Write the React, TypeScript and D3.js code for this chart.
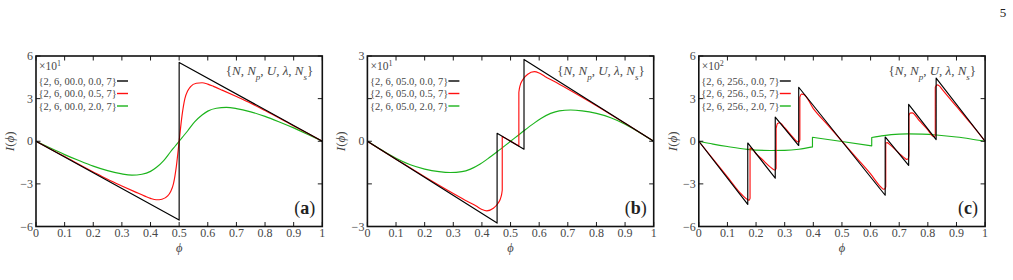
import React from 'react';
import * as d3 from 'd3';

type Pt = [number, number];

// Shared x axis: flux phi from 0 to 1
const PHI_TICKS = [0, 0.1, 0.2, 0.3, 0.4, 0.5, 0.6, 0.7, 0.8, 0.9, 1];
const PHI_TICK_LABELS = ['0', '0.1', '0.2', '0.3', '0.4', '0.5', '0.6', '0.7', '0.8', '0.9', '1'];

// Panel (a): U = 0, current in units of 10^1
const Y_TICKS_A = [-6, -3, 0, 3, 6];
const Y_LABELS_A = ['−6', '−3', '0', '3', '6'];
const LEGEND_A = ['{2, 6, 00.0, 0.0, 7}', '{2, 6, 00.0, 0.5, 7}', '{2, 6, 00.0, 2.0, 7}'];
const blackA: Pt[] = [[0, 0], [0.5, -5.55], [0.5, 5.55], [1, 0]];
const redA: Pt[] = [
  [0, 0], [0.1, -1.08], [0.2, -2.16], [0.25, -2.68], [0.3, -3.15], [0.35, -3.6], [0.38, -3.86],
  [0.4, -4.02], [0.42, -4.12], [0.44, -4.08], [0.46, -3.85], [0.47, -3.55], [0.48, -3.0],
  [0.49, -1.8], [0.5, 0], [0.51, 1.8], [0.52, 3.0], [0.53, 3.55], [0.54, 3.85], [0.56, 4.08],
  [0.58, 4.12], [0.6, 4.02], [0.62, 3.86], [0.65, 3.6], [0.7, 3.15], [0.75, 2.68], [0.8, 2.16],
  [0.9, 1.08], [1, 0],
];
const greenA: Pt[] = [
  [0, 0], [0.05, -0.48], [0.1, -0.94], [0.15, -1.36], [0.2, -1.75], [0.25, -2.07], [0.3, -2.3],
  [0.335, -2.38], [0.37, -2.32], [0.4, -2.12], [0.42, -1.85], [0.446, -1.36], [0.47, -0.74],
  [0.485, -0.37], [0.5, 0], [0.515, 0.37], [0.53, 0.74], [0.554, 1.36], [0.58, 1.85], [0.6, 2.12],
  [0.63, 2.32], [0.665, 2.38], [0.7, 2.3], [0.75, 2.07], [0.8, 1.75], [0.85, 1.36], [0.9, 0.94],
  [0.95, 0.48], [1, 0],
];

// Panel (b): U = 5, current in units of 10^1
const Y_TICKS_B = [-3, -1.5, 0, 1.5, 3];
const Y_LABELS_B = ['−3', '', '0', '', '3'];
const LEGEND_B = ['{2, 6, 05.0, 0.0, 7}', '{2, 6, 05.0, 0.5, 7}', '{2, 6, 05.0, 2.0, 7}'];
const blackB: Pt[] = [
  [0, 0], [0.453, -2.88], [0.453, 0.28], [0.547, -0.28], [0.547, 2.88], [1, 0],
];
const redB: Pt[] = [
  [0, 0], [0.1, -0.63], [0.2, -1.25], [0.3, -1.84], [0.35, -2.12], [0.38, -2.28], [0.4, -2.4],
  [0.417, -2.45], [0.44, -2.36], [0.455, -2.2], [0.464, -2.04], [0.469, -1.86], [0.471, -1.72],
  [0.471, 0.17], [0.529, -0.17], [0.529, 1.72], [0.531, 1.86], [0.536, 2.04], [0.545, 2.2],
  [0.56, 2.36], [0.583, 2.45], [0.6, 2.4], [0.62, 2.28], [0.65, 2.12], [0.7, 1.84], [0.8, 1.25],
  [0.9, 0.63], [1, 0],
];
const greenB: Pt[] = [
  [0, 0], [0.05, -0.31], [0.1, -0.6], [0.15, -0.83], [0.2, -0.98], [0.25, -1.07], [0.29, -1.1],
  [0.33, -1.07], [0.36, -0.98], [0.394, -0.8], [0.42, -0.62], [0.452, -0.38], [0.5, 0],
  [0.548, 0.38], [0.58, 0.62], [0.606, 0.8], [0.64, 0.98], [0.67, 1.07], [0.71, 1.1], [0.75, 1.07],
  [0.8, 0.98], [0.85, 0.83], [0.9, 0.6], [0.95, 0.31], [1, 0],
];

// Panel (c): U = 256, current in units of 10^2
const Y_TICKS_C = [-6, -3, 0, 3, 6];
const Y_LABELS_C = ['−6', '−3', '0', '3', '6'];
const LEGEND_C = ['{2, 6, 256., 0.0, 7}', '{2, 6, 256., 0.5, 7}', '{2, 6, 256., 2.0, 7}'];
const blackC: Pt[] = [
  [0, 0], [0.171, -4.45], [0.171, -0.12], [0.267, -2.6], [0.267, 1.7], [0.349, -0.3],
  [0.349, 3.8], [0.651, -3.8], [0.651, 0.3], [0.733, -1.7], [0.733, 2.6], [0.829, 0.12],
  [0.829, 4.45], [1, 0],
];
const redC: Pt[] = [
  [0, 0], [0.1, -2.5], [0.15, -3.75], [0.17, -4.1], [0.176, -4.15], [0.179, -4.02],
  [0.179, -0.48], [0.184, -0.5], [0.2, -0.88], [0.22, -1.25], [0.25, -1.82], [0.262, -2.0],
  [0.267, -2.02], [0.27, -1.9],
  [0.27, 0.9], [0.275, 1.25], [0.282, 1.3], [0.3, 0.95], [0.33, 0.25], [0.345, -0.04],
  [0.35, -0.07], [0.353, 0.1],
  [0.353, 3.1], [0.358, 3.32], [0.366, 3.3], [0.4, 2.3], [0.45, 1.15], [0.5, 0], [0.55, -1.15],
  [0.6, -2.3], [0.635, -3.2], [0.645, -3.38], [0.65, -3.35], [0.653, -3.2],
  [0.653, -0.12], [0.658, -0.1], [0.665, -0.2], [0.7, -0.85], [0.72, -1.2], [0.727, -1.28],
  [0.732, -1.2], [0.734, -1.0],
  [0.734, 1.8], [0.738, 1.98], [0.745, 2.0], [0.77, 1.45], [0.8, 0.8], [0.815, 0.4],
  [0.822, 0.32], [0.826, 0.4],
  [0.826, 3.8], [0.832, 3.97], [0.84, 3.9], [0.85, 3.65], [0.9, 2.45], [0.95, 1.25], [1, 0],
];
const greenC: Pt[] = [
  [0, 0], [0.05, -0.2], [0.1, -0.37], [0.17, -0.57], [0.25, -0.65], [0.3, -0.64], [0.35, -0.56],
  [0.397, -0.4], [0.397, 0.28], [0.5, -0.02], [0.604, -0.33], [0.604, 0.26], [0.646, 0.4],
  [0.7, 0.5], [0.73, 0.52], [0.78, 0.5], [0.83, 0.44], [0.9, 0.3], [0.95, 0.16], [1, 0],
];

const SERIES_COLORS = ['#000000', '#ff1010', '#1cb41c'];
const TEXT_GRAY = '#474747';
const FONT = '"Liberation Serif", "DejaVu Serif", serif';

const panels = [
  { tag: 'a', exp: '1', yMax: 6, yTicks: Y_TICKS_A, yLabels: Y_LABELS_A, legend: LEGEND_A, series: [blackA, redA, greenA] },
  { tag: 'b', exp: '1', yMax: 3, yTicks: Y_TICKS_B, yLabels: Y_LABELS_B, legend: LEGEND_B, series: [blackB, redB, greenB] },
  { tag: 'c', exp: '2', yMax: 6, yTicks: Y_TICKS_C, yLabels: Y_LABELS_C, legend: LEGEND_C, series: [blackC, redC, greenC] },
];

const PANEL_X0 = 36;
const PANEL_STEP = 331.4;
const PANEL_W = 286.3;
const PANEL_TOP = 56;
const PANEL_BOTTOM = 226.5;
const TICK = 4.5;

// Splits a series at vertical jumps (repeated phi) so each continuous piece
// is smoothed on its own, and joins the pieces with straight vertical strokes.
function seriesPath(pts: Pt[], x: d3.ScaleLinear<number, number>, y: d3.ScaleLinear<number, number>) {
  const pieces: Pt[][] = [];
  let cur: Pt[] = [];
  pts.forEach((p, i) => {
    if (i > 0 && p[0] === pts[i - 1][0]) {
      pieces.push(cur);
      cur = [];
    }
    cur.push(p);
  });
  pieces.push(cur);
  const line = d3.line<Pt>().x((d) => x(d[0])).y((d) => y(d[1])).curve(d3.curveMonotoneX);
  return pieces
    .map((piece, i) => {
      const d = line(piece) || '';
      return i === 0 ? d : 'L' + d.slice(1);
    })
    .join('');
}

function Panel({ index }: { index: number }) {
  const p = panels[index];
  const left = PANEL_X0 + index * PANEL_STEP;
  const right = left + PANEL_W;
  const x = d3.scaleLinear().domain([0, 1]).range([left, right]);
  const y = d3.scaleLinear().domain([-p.yMax, p.yMax]).range([PANEL_BOTTOM, PANEL_TOP]);
  const midX = (left + right) / 2;

  return (
    <g fontFamily={FONT}>
      {/* data */}
      {[2, 1, 0].map((k) => (
        <path
          key={k}
          d={seriesPath(p.series[k], x, y)}
          fill="none"
          stroke={SERIES_COLORS[k]}
          strokeWidth={1.15}
          strokeLinejoin="round"
        />
      ))}

      {/* inward ticks on all four sides */}
      {PHI_TICKS.map((t, i) => (
        <g key={'xt' + i} stroke="#000" strokeWidth={0.9}>
          <line x1={x(t)} x2={x(t)} y1={PANEL_BOTTOM} y2={PANEL_BOTTOM - TICK} />
          <line x1={x(t)} x2={x(t)} y1={PANEL_TOP} y2={PANEL_TOP + TICK} />
        </g>
      ))}
      {p.yTicks.map((t, i) => (
        <g key={'yt' + i} stroke="#000" strokeWidth={0.9}>
          <line x1={left} x2={left + TICK} y1={y(t)} y2={y(t)} />
          <line x1={right} x2={right - TICK} y1={y(t)} y2={y(t)} />
        </g>
      ))}

      {/* frame */}
      <rect
        x={left}
        y={PANEL_TOP}
        width={PANEL_W}
        height={PANEL_BOTTOM - PANEL_TOP}
        fill="none"
        stroke="#111"
        strokeWidth={1.6}
      />

      {/* tick labels */}
      {PHI_TICKS.map((t, i) => (
        <text key={'xl' + i} x={x(t)} y={PANEL_BOTTOM + 10.5} textAnchor="middle" fontSize={12} fill={TEXT_GRAY}>
          {PHI_TICK_LABELS[i]}
        </text>
      ))}
      {p.yTicks.map((t, i) =>
        p.yLabels[i] ? (
          <text key={'yl' + i} x={left - 3} y={y(t) + 4} textAnchor="end" fontSize={12} fill={TEXT_GRAY}>
            {p.yLabels[i]}
          </text>
        ) : null
      )}

      {/* axis titles */}
      <text x={midX} y={252} textAnchor="middle" fontSize={12.5} fontStyle="italic" fill={TEXT_GRAY}>
        ϕ
      </text>
      <text
        transform={`translate(${left - 22},${y(0)}) rotate(-90)`}
        textAnchor="middle"
        fontSize={13}
        fill={TEXT_GRAY}
      >
        <tspan fontStyle="italic">I</tspan>(<tspan fontStyle="italic">ϕ</tspan>)
      </text>

      {/* scale factor and legend */}
      <text x={left + 3} y={70} fontSize={11.5} fill={TEXT_GRAY}>
        ×10<tspan baselineShift="super" fontSize={8}>{p.exp}</tspan>
      </text>
      {p.legend.map((label, k) => {
        const yy = 84.5 + k * 12.5;
        return (
          <g key={'lg' + k}>
            <text x={left + 2.5} y={yy} fontSize={10.5} fill={TEXT_GRAY}>
              {label}
            </text>
            <line
              x1={left + 81}
              x2={left + 92}
              y1={yy - 3.5}
              y2={yy - 3.5}
              stroke={SERIES_COLORS[k]}
              strokeWidth={1.4}
            />
          </g>
        );
      })}

      {/* parameter key */}
      <text x={right - 9} y={74.5} textAnchor="end" fontSize={13} fill={TEXT_GRAY}>
        {'{'}
        <tspan fontStyle="italic">N</tspan>
        {', '}
        <tspan fontStyle="italic">N</tspan>
        <tspan fontStyle="italic" fontSize={9} baselineShift="sub">p</tspan>
        {', '}
        <tspan fontStyle="italic">U</tspan>
        {', '}
        <tspan fontStyle="italic">λ</tspan>
        {', '}
        <tspan fontStyle="italic">N</tspan>
        <tspan fontStyle="italic" fontSize={9} baselineShift="sub">s</tspan>
        {'}'}
      </text>

      {/* panel tag */}
      <text x={right - 7} y={214} textAnchor="end" fontSize={18} fill="#222">
        (<tspan fontWeight="bold">{p.tag}</tspan>)
      </text>
    </g>
  );
}

export default function App() {
  return (
    <svg
      width={1013}
      height={280}
      viewBox="0 0 1013 280"
      style={{ position: 'absolute', left: 0, top: 0, background: '#fff' }}
    >
      <rect width={1013} height={280} fill="#fff" />
      <text x={1003} y={17} textAnchor="middle" fontSize={13} fontFamily={FONT} fill="#222">
        5
      </text>
      {panels.map((_, i) => (
        <Panel key={i} index={i} />
      ))}
    </svg>
  );
}
